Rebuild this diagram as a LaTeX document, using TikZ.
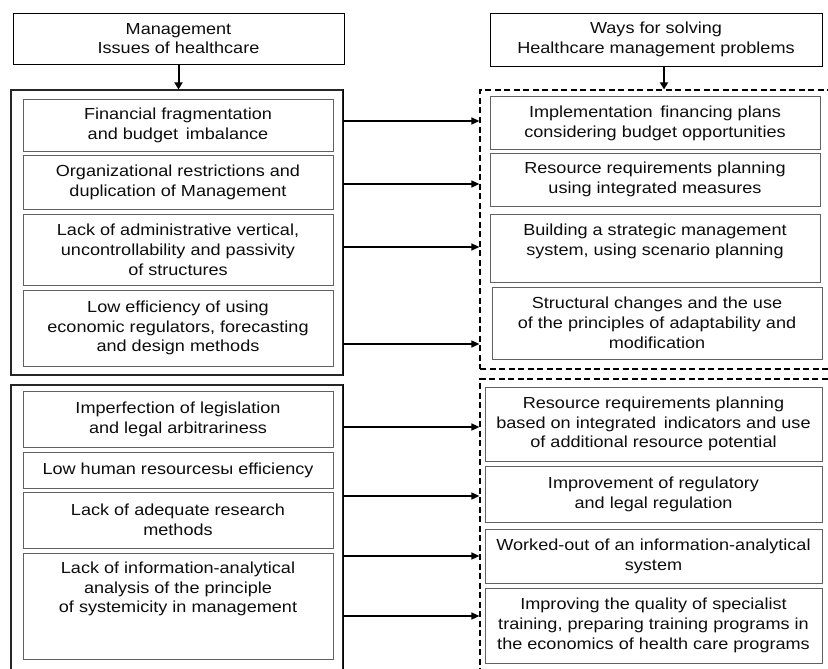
\documentclass[tikz,border=0pt]{standalone}
\usepackage{fontspec}
\setmainfont[FakeStretch=1.13]{Liberation Sans}
\usetikzlibrary{arrows.meta}
\begin{document}
\begin{tikzpicture}[x=1pt,y=-1pt,
  txt/.style={align=center, inner sep=0pt, text=black!95, font=\fontsize{16}{19.8}\selectfont},
  ibox/.style={txt, draw=black!62, line width=1pt, fill=white},
  hbox/.style={txt, draw=black, line width=0.9pt, fill=white},
  obox/.style={draw=black!85, line width=1.1pt, inner sep=0pt},
  dbox/.style={draw=black, line width=1.2pt, dash pattern=on 6pt off 3.5pt, inner sep=0pt},
  arr/.style={draw=black, line width=1.5pt, -{Triangle[length=8pt,width=7pt]}},
  harr/.style={draw=black, line width=2pt, -{Triangle[length=7pt,width=8pt]}}
]
\useasboundingbox (0,0) rectangle (828,669);

% headers
\node[hbox, minimum width=331pt, minimum height=51pt] (h1) at (178.5,38.5) {Management\\Issues of healthcare};
\node[hbox, minimum width=332pt, minimum height=53pt] (h2) at (656,39.5) {Ways for solving\\Healthcare management problems};
\draw[line width=1.8pt] (h1.north east) -- (h1.south east) -- (h1.south west);
\draw[line width=1.8pt] (h2.north east) -- (h2.south east) -- (h2.south west);

% outer groups
\node[obox, minimum width=332pt, minimum height=285pt] (o1) at (177,232.5) {};
\node[obox, minimum width=332pt, minimum height=315pt] (o2) at (177,542.5) {};
\draw[line width=1.8pt] (o1.north east) -- (o1.south east);
\draw[line width=1.8pt] (o2.north east) -- (o2.south east);
\node[dbox, minimum width=360pt, minimum height=279pt] (d1) at (660,229.5) {};
\node[dbox, minimum width=360pt, minimum height=321pt] (d2) at (660,539.5) {};

% header arrows
\draw[harr] (h1.south) -- (h1.south |- o1.north);
\draw[harr] ([xshift=8pt]h2.south) -- ([xshift=8pt]h2.south |- d1.north);

% left boxes
\node[ibox, minimum width=310pt, minimum height=51pt] (b1) at (178,125.5) {Financial fragmentation\\and budget\, imbalance};
\node[ibox, minimum width=310pt, minimum height=54pt] (b2) at (178,182) {Organizational restrictions and\\duplication of Management};
\node[ibox, minimum width=310pt, minimum height=71pt] (b3) at (178,249.5) {Lack of administrative vertical,\\uncontrollability and passivity\\of structures};
\node[ibox, minimum width=310pt, minimum height=76pt] (b4) at (178,328) {Low efficiency of using\\economic regulators, forecasting\\and design methods};
\node[ibox, minimum width=310pt, minimum height=56pt] (b5) at (178,419) {Imperfection of legislation\\and legal arbitrariness};
\node[ibox, minimum width=310pt, minimum height=36pt] (b6) at (178,470) {Low human resourcesы efficiency};
\node[ibox, minimum width=310pt, minimum height=56pt] (b7) at (178,520) {Lack of adequate research\\methods};
\node[ibox, minimum width=310pt, minimum height=106pt] (b8) at (178,606) {};
\node[txt, anchor=center] (b8t) at ([yshift=17pt]b8.center) {Lack of information-analytical\\analysis of the principle\\of systemicity in management};

% right boxes
\node[ibox, minimum width=330pt, minimum height=52pt] (r1) at (655,123) {Implementation\, financing plans\\considering budget opportunities};
\node[ibox, minimum width=330pt, minimum height=53pt] (r2) at (655,179.5) {Resource requirements planning\\using integrated measures};
\node[ibox, minimum width=330pt, minimum height=68pt] (r3) at (655,248) {};
\node[txt, anchor=center] (r3t) at ([yshift=7pt]r3.center) {Building a strategic management\\system, using scenario planning};
\node[ibox, minimum width=330pt, minimum height=72pt] (r4) at (657,323) {Structural changes and the use\\of the principles of adaptability and\\modification};
\node[ibox, minimum width=337pt, minimum height=74pt] (r5) at (653.5,424) {Resource requirements planning\\based on integrated\, indicators and use\\of additional resource potential};
\node[ibox, minimum width=337pt, minimum height=56pt] (r6) at (653.5,494) {Improvement of regulatory\\and legal regulation};
\node[ibox, minimum width=337pt, minimum height=54pt] (r7) at (653.5,556) {Worked-out of an information-analytical\\system};
\node[ibox, minimum width=337pt, minimum height=75pt] (r8) at (653.5,625.5) {Improving the quality of specialist\\training, preparing training programs in\\the economics of health care programs};

% connectors
\draw[arr] (o1.east |- 0,121) -- (d1.west |- 0,121);
\draw[arr] (o1.east |- 0,184) -- (d1.west |- 0,184);
\draw[arr] (o1.east |- 0,247) -- (d1.west |- 0,247);
\draw[line width=2.3pt] (390,246.8) -- (403,246.8);
\draw[arr] (o1.east |- 0,344) -- (d1.west |- 0,344);
\draw[arr] (o2.east |- 0,427) -- (d2.west |- 0,427);
\draw[arr] (o2.east |- 0,496) -- (d2.west |- 0,496);
\draw[arr] (o2.east |- 0,556) -- (d2.west |- 0,556);
\draw[arr] (o2.east |- 0,616) -- (d2.west |- 0,616);
\end{tikzpicture}
\end{document}
